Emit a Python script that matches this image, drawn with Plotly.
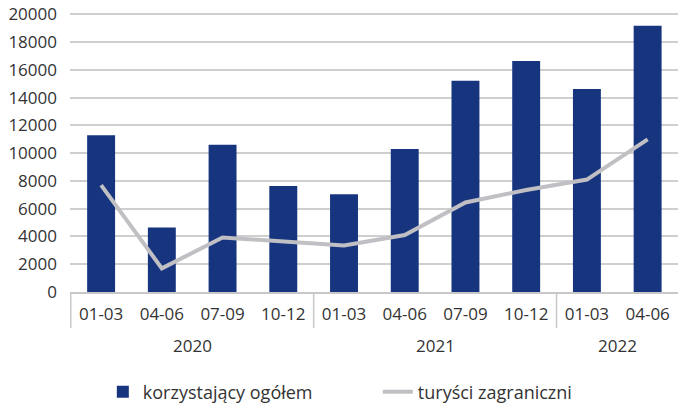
import plotly.graph_objects as go

years = ["2020", "2020", "2020", "2020", "2021", "2021", "2021", "2021", "2022", "2022"]
quarters = ["01-03", "04-06", "07-09", "10-12", "01-03", "04-06", "07-09", "10-12", "01-03", "04-06"]
total = [11300, 4640, 10600, 7630, 7040, 10300, 15220, 16650, 14630, 19190]
foreign = [7700, 1700, 3930, 3650, 3350, 4100, 6450, 7350, 8100, 11000]
tick_vals = [0, 2000, 4000, 6000, 8000, 10000, 12000, 14000, 16000, 18000, 20000]
tick_text = [str(v) for v in tick_vals]

cats = [f"{y} {q}" for y, q in zip(years, quarters)]

fig = go.Figure()
fig.add_trace(go.Bar(x=cats, y=total, name="korzystający ogółem",
                     marker=dict(color="#17357f", line=dict(width=0))))
fig.add_trace(go.Scatter(x=cats, y=foreign, name="turyści zagraniczni",
                         mode="lines", line=dict(color="#c0c0c4", width=4)))

# year group dividers and labels derived from the years array
div_color = "#c8c8c8"
groups = []
for i, y in enumerate(years):
    if not groups or groups[-1][0] != y:
        groups.append([y, i, i])
    else:
        groups[-1][2] = i
plot_h = 279.4
div_bottom = -36 / plot_h
for gi, (y, i0, i1) in enumerate(groups):
    fig.add_shape(type="line", xref="x", yref="paper", x0=i0 - 0.5, x1=i0 - 0.5,
                  y0=0, y1=div_bottom, line=dict(color=div_color, width=1.5))
    fig.add_annotation(xref="x", yref="paper", x=(i0 + i1) / 2, y=-54 / plot_h,
                       text=y, showarrow=False, yanchor="middle",
                       font=dict(size=17, color="#333333"))

fig.update_layout(
    width=681, height=405,
    margin=dict(l=70, r=3, t=12.6, b=113, autoexpand=False),
    paper_bgcolor="white", plot_bgcolor="white",
    font=dict(family="Open Sans", size=17, color="#333333"),
    bargap=0.54,
    showlegend=True,
    legend=dict(orientation="h", xref="container", yref="container",
                x=0.151, xanchor="left", y=13 / 405, yanchor="middle",
                font=dict(size=18, color="#333333"), entrywidth=230),
    xaxis=dict(type="category", tickvals=cats, ticktext=quarters,
               showline=True, linecolor=div_color, linewidth=1.5,
               ticks="", showgrid=False, automargin=False, ticklabelstandoff=6,
               tickfont=dict(size=17)),
    yaxis=dict(range=[0, 20100], tickvals=tick_vals, ticktext=tick_text, showgrid=True,
               gridcolor="#cfcfcf", automargin=False, ticklabeloverflow="allow",
               gridwidth=1.5, zeroline=False, showline=False, tickfont=dict(size=17),
               ticklabelstandoff=12),
)

fig.write_html("out.html", config={"displayModeBar": False},
               post_script="document.body.style.margin='0';")
